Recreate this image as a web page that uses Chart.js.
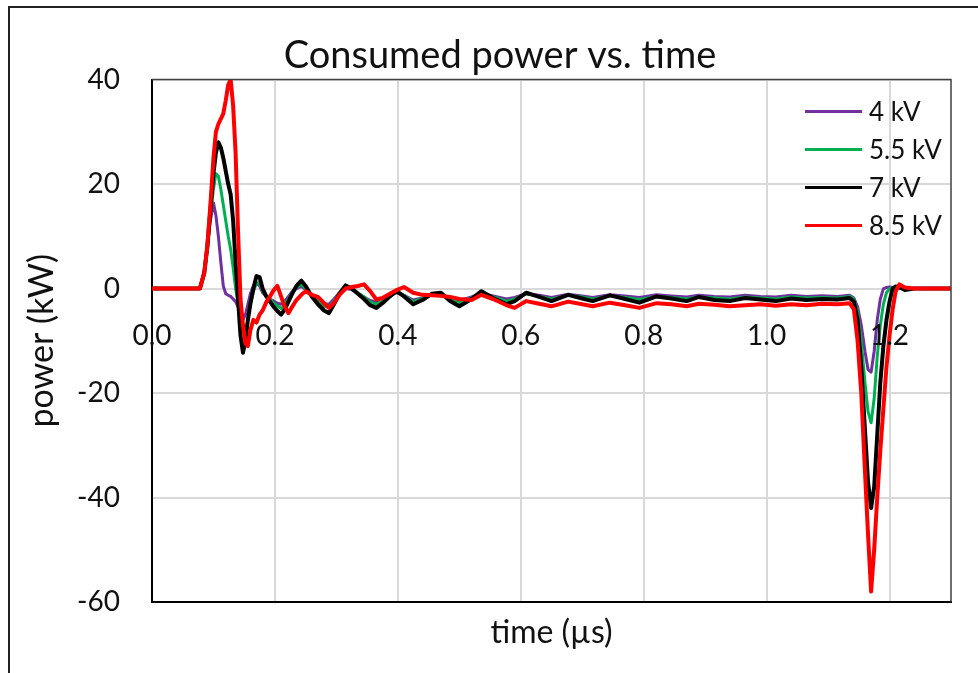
<!DOCTYPE html>
<html>
<head>
<meta charset="utf-8">
<script src="https://cdn.jsdelivr.net/npm/chart.js@4.4.1/dist/chart.umd.min.js"></script>
<style>
  html, body { margin: 0; padding: 0; background: #fff; }
  #wrap { position: relative; width: 978px; height: 673px; }
  #frame { position: absolute; left: 8px; top: 6px; right: 0; bottom: 0;
           border-top: 2px solid #222; border-left: 2px solid #222; pointer-events: none; }
</style>
</head>
<body>
<div id="wrap">
  <canvas id="myChart" width="978" height="673"></canvas>
  <div id="frame"></div>
</div>
<script>
// time axis (µs), shared by all four traces
const timeUs = [
  0, 0.05, 0.078, 0.085, 0.09, 0.095, 0.1, 0.104, 0.108, 0.112,
  0.116, 0.12, 0.124, 0.128, 0.132, 0.136, 0.14, 0.144, 0.148, 0.152,
  0.156, 0.16, 0.165, 0.17, 0.175, 0.18, 0.186, 0.192, 0.198, 0.204,
  0.21, 0.216, 0.222, 0.228, 0.235, 0.243, 0.25, 0.26, 0.27, 0.28,
  0.288, 0.296, 0.305, 0.315, 0.325, 0.335, 0.345, 0.355, 0.365, 0.375,
  0.387, 0.398, 0.41, 0.425, 0.44, 0.455, 0.47, 0.485, 0.5, 0.52,
  0.536, 0.555, 0.577, 0.59, 0.609, 0.63, 0.65, 0.677, 0.7, 0.717,
  0.745, 0.77, 0.793, 0.821, 0.845, 0.87, 0.89, 0.915, 0.94, 0.965,
  0.99, 1.015, 1.04, 1.065, 1.09, 1.115, 1.135, 1.142, 1.148, 1.154,
  1.16, 1.165, 1.17, 1.175, 1.18, 1.185, 1.19, 1.195, 1.2, 1.205,
  1.21, 1.216, 1.225, 1.24, 1.3
];

// consumed power (kW)
const power4kV = [
  0, 0, 0, 3, 8, 13, 16.4, 14, 10, 5,
  0.5, -1, -1.3, -1.5, -2, -2.5, -3.5, -5, -6, -5,
  -3, -1, 0.5, 1, 0.5, -0.8, -1.5, -2, -2.4, -2.8,
  -3, -2.4, -1.5, -0.6, 0, 0.4, -0.2, -1.2, -2.2, -2.9,
  -3.0, -2.0, -0.8, 0, -0.2, -0.9, -1.6, -2.3, -2.6, -2.0,
  -1.2, -0.8, -1.3, -2.2, -1.8, -1.1, -1.1, -1.8, -2.3, -1.6,
  -0.9, -1.4, -2.0, -1.7, -1.0, -1.3, -1.7, -1.1, -1.4, -1.7,
  -1.2, -1.4, -1.7, -1.2, -1.4, -1.6, -1.3, -1.5, -1.6, -1.3,
  -1.5, -1.6, -1.3, -1.5, -1.4, -1.5, -1.3, -1.8, -3.5, -7,
  -12, -15.5, -16, -12, -6, -2, 0, 0.2, 0.3, 0.2,
  0.1, 0, 0, 0, 0
];
const power55kV = [
  0, 0, 0, 3, 8, 14, 19, 22, 21.5, 19,
  16, 13, 10, 7.5, 4, 0, -3, -6, -8.5, -9,
  -6, -3, -0.5, 1, 1.2, -0.5, -1.5, -2, -2.8, -3.3,
  -3.8, -3, -2, -0.8, 0.2, 0.8, 0, -1.2, -2.4, -3.4,
  -3.6, -2.4, -0.8, 0.3, 0, -0.8, -1.6, -2.6, -3.0, -2.3,
  -1.2, -0.6, -1.3, -2.5, -1.9, -1.0, -1.0, -2.0, -2.7, -1.8,
  -0.8, -1.6, -2.4, -2.0, -1.0, -1.5, -2.0, -1.3, -1.6, -2.0,
  -1.4, -1.7, -2.1, -1.5, -1.7, -2.0, -1.6, -1.8, -2.0, -1.6,
  -1.8, -2.0, -1.6, -1.8, -1.7, -1.8, -1.5, -2, -4.5, -10,
  -18, -23.5, -25.7, -21, -13, -7, -3, -0.8, 0, 0.2,
  0.3, 0.2, 0, 0, 0
];
const power7kV = [
  0, 0, 0, 3, 8, 15, 22, 26, 28, 27,
  25, 22.5, 20, 18, 13, 5, -2, -9, -12.3, -10,
  -6, -3, 0, 2.4, 2.2, 0, -1.5, -2.5, -3.5, -4.3,
  -5, -4, -2.5, -1, 0.5, 1.5, 0.5, -1.5, -3, -4.2,
  -4.7, -3, -1, 0.6, 0, -1, -2, -3.2, -3.7, -2.8,
  -1.5, -0.5, -1.5, -3, -2.2, -1, -0.8, -2.4, -3.4, -2,
  -0.5, -1.8, -3, -2.4, -0.8, -1.6, -2.4, -1.2, -1.9, -2.4,
  -1.3, -2.0, -2.7, -1.5, -1.9, -2.4, -1.6, -2.2, -2.4, -1.8,
  -2.1, -2.4, -1.9, -2.2, -2.0, -2.1, -1.8, -2.5, -6, -15,
  -27, -37, -42, -38, -28, -18, -11, -6, -2.5, 0,
  0.4, 0.3, -0.3, 0, 0
];
const power85kV = [
  0, 0, 0, 3, 8, 16, 25, 30, 31.5, 32.5,
  33.5, 36, 39, 40, 35, 26, 11, -2, -7, -10.5,
  -11, -8, -6, -6.5, -5, -4.2, -2.6, -1.5, -0.3, 0.5,
  -1.5, -3.5, -4.7, -3.5, -2.2, -1.2, -0.5, -1.2, -1.6, -2.8,
  -3.7, -2.8, -1.2, 0, 0.3, 0.5, 0.8, -0.5, -2.1, -1.8,
  -1.0, -0.3, 0.3, -0.8, -1.2, -1.3, -1.4, -1.6, -2.0, -2.2,
  -1.2, -2.0, -3.2, -3.7, -2.4, -2.9, -3.4, -2.5, -3.0, -3.4,
  -2.7, -3.2, -3.7, -2.8, -3.0, -3.4, -2.9, -3.1, -3.4, -3.2,
  -3.0, -3.3, -3.0, -3.2, -2.9, -3.0, -2.8, -4, -10, -20,
  -35, -47, -58, -50, -40, -31, -23, -15, -9, -4,
  -0.5, 0.8, 0.2, 0, 0
];

const seriesLabels = ['4 kV', '5.5 kV', '7 kV', '8.5 kV'];
const seriesColors = ['#7030a0', '#00b050', '#000000', '#ff0000'];
const seriesWidths = [3, 3, 4, 4];
const seriesValues = [power4kV, power55kV, power7kV, power85kV];

Chart.defaults.font.family = 'Lato';
Chart.defaults.color = '#111';

// legend drawn inside the plot, upper right
const insideLegend = {
    id: 'insideLegend',
    afterDraw(chart) {
        const {ctx, chartArea} = chart;
        ctx.save();
        ctx.font = '26px Lato';
        ctx.textBaseline = 'middle';
        chart.data.datasets.forEach((ds, i) => {
            const x = chartArea.right - 146;
            const y = chartArea.top + 32 + i * 38;
            ctx.strokeStyle = ds.borderColor;
            ctx.lineWidth = 3;
            ctx.beginPath();
            ctx.moveTo(x, y);
            ctx.lineTo(x + 57, y);
            ctx.stroke();
            ctx.fillStyle = '#111';
            ctx.fillText(ds.label, x + 64, y + 1);
        });
        ctx.restore();
    }
};

// thin grey border on top and right of the plot area
const plotBorder = {
    id: 'plotBorder',
    afterDatasetsDraw(chart) {
        const {ctx, chartArea: a} = chart;
        ctx.save();
        ctx.strokeStyle = '#404040';
        ctx.lineWidth = 1.5;
        ctx.beginPath();
        ctx.moveTo(a.left, a.top);
        ctx.lineTo(a.right, a.top);
        ctx.lineTo(a.right, a.bottom);
        ctx.stroke();
        ctx.restore();
    }
};

const datasets = seriesValues.map((vals, i) => ({
    label: seriesLabels[i],
    data: timeUs.map((t, k) => ({x: t, y: vals[k]})),
    borderColor: seriesColors[i],
    backgroundColor: seriesColors[i],
    borderWidth: seriesWidths[i],
    pointRadius: 0,
    tension: 0,
    borderJoinStyle: 'round',
    order: 4 - i,
    xAxisID: 'x',
    yAxisID: 'y'
}));

const ctx = document.getElementById('myChart').getContext('2d');
new Chart(ctx, {
    type: 'line',
    data: { datasets: datasets },
    plugins: [plotBorder, insideLegend],
    options: {
        responsive: false,
        animation: false,
        layout: { padding: { left: 22, right: 0, top: 0, bottom: 0 } },
        plugins: {
            legend: { display: false },
            tooltip: { enabled: false },
            title: {
                display: true,
                text: 'Consumed power vs. time',
                font: { size: 38, weight: 'normal' },
                color: '#111',
                padding: { top: 33, bottom: 1 }
            }
        },
        scales: {
            x: {
                type: 'linear', min: 0, max: 1.3, position: { y: 0 },
                grid: { display: false, drawTicks: false },
                border: { display: false },
                ticks: {
                    stepSize: 0.2, includeBounds: false, autoSkip: false, maxRotation: 0,
                    font: { size: 28 }, padding: 31, z: 1,
                    callback: v => v.toFixed(1)
                }
            },
            xGrid: {
                type: 'linear', axis: 'x', min: 0, max: 1.3, position: 'bottom',
                grid: { color: '#d9d9d9', lineWidth: 2, drawTicks: false },
                border: { color: '#000', width: 2 },
                ticks: { display: false, stepSize: 0.2, includeBounds: false },
                title: { display: true, text: 'time (µs)', font: { size: 32 }, padding: { top: 0, bottom: 21 } },
                afterFit: s => { s.height = 71; }
            },
            y: {
                type: 'linear', min: -60, max: 40, position: 'left',
                grid: { color: '#d9d9d9', lineWidth: 2, drawTicks: false },
                border: { color: '#000', width: 2 },
                ticks: { stepSize: 20, font: { size: 28 }, padding: 32 },
                title: { display: true, text: 'power (kW)', font: { size: 34 }, padding: { top: 0, bottom: 0 } },
                afterFit: s => { s.width = 130; }
            },
            yPad: {
                type: 'linear', axis: 'y', position: 'right',
                grid: { display: false },
                border: { display: false },
                ticks: { display: false },
                afterFit: s => { s.width = 27; }
            }
        }
    }
});
</script>
</body>
</html>
